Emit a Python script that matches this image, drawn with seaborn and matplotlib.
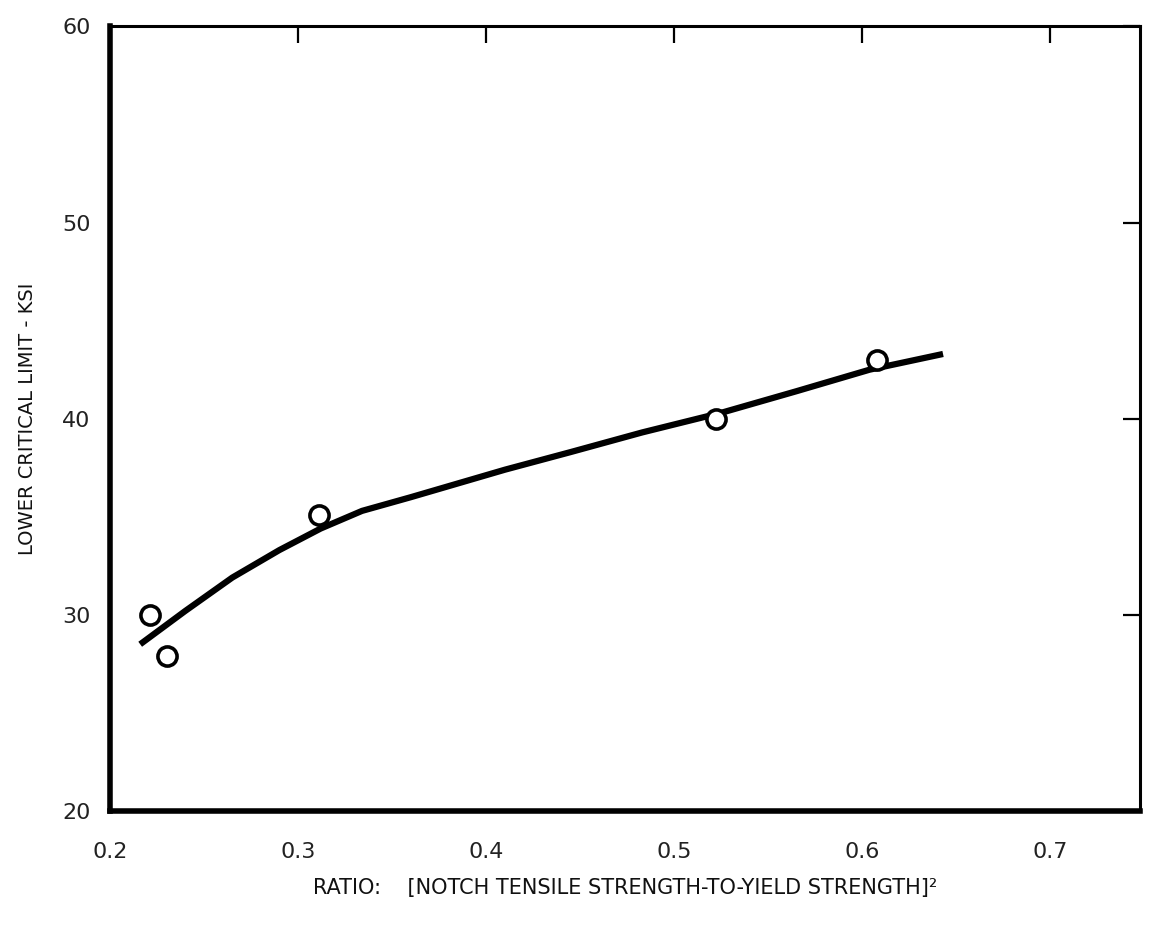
import numpy as np
import pandas as pd
import matplotlib
matplotlib.use("Agg")
import matplotlib.pyplot as plt
import seaborn as sns

# test points (open circles)
ratio_pts = [0.221, 0.230, 0.311, 0.522, 0.608]
limit_pts = [30.0, 27.9, 35.1, 40.0, 43.0]

# faired curve through the data
ratio_curve = [0.216, 0.240, 0.265, 0.290, 0.312, 0.334, 0.360, 0.385, 0.410, 0.445, 0.483, 0.525, 0.565, 0.604, 0.643]
limit_curve = [28.5, 30.2, 31.9, 33.3, 34.4, 35.3, 36.0, 36.7, 37.4, 38.3, 39.3, 40.3, 41.4, 42.5, 43.3]

x_ticks = [0.2, 0.3, 0.4, 0.5, 0.6, 0.7]
x_labels = ["0.2", "0.3", "0.4", "0.5", "0.6", "0.7"]
y_ticks = [20, 30, 40, 50, 60]
y_labels = ["20", "30", "40", "50", "60"]

sns.set_style("white")
plt.rcParams['font.family'] = ['DejaVu Sans']

fig, ax = plt.subplots(figsize=(11.59, 9.43), dpi=100)
fig.subplots_adjust(left=0.095, right=0.984, bottom=0.14, top=0.972)

curve = pd.DataFrame({"ratio": ratio_curve, "limit": limit_curve})
pts = pd.DataFrame({"ratio": ratio_pts, "limit": limit_pts})

sns.lineplot(data=curve, x="ratio", y="limit", sort=False, estimator=None,
             color="black", linewidth=4.5, solid_capstyle="butt", ax=ax, zorder=2)
sns.scatterplot(data=pts, x="ratio", y="limit", s=190, marker="o",
                facecolor="white", edgecolor="black", linewidth=2.6, ax=ax, zorder=3)

ax.set_xlim(0.2, 0.748)
ax.set_ylim(20, 60)
ax.set_xticks(x_ticks)
ax.set_xticklabels(x_labels)
ax.set_yticks(y_ticks)
ax.set_yticklabels(y_labels)

for side in ["left", "bottom", "top", "right"]:
    ax.spines[side].set_visible(True)
    ax.spines[side].set_color("black")
ax.spines["left"].set_linewidth(4)
ax.spines["bottom"].set_linewidth(4)
ax.spines["top"].set_linewidth(2.2)
ax.spines["right"].set_linewidth(2.2)

ax.tick_params(axis="both", direction="in", length=12, width=1.6, color="black",
               top=True, right=True, labelsize=16, labelcolor="#222222")
ax.tick_params(axis="x", pad=22)
ax.tick_params(axis="y", pad=14)

ax.set_xlabel("RATIO:    [NOTCH TENSILE STRENGTH-TO-YIELD STRENGTH]²",
              fontsize=15, color="#111111", labelpad=12)
ax.set_ylabel("LOWER CRITICAL LIMIT - KSI", fontsize=14, color="#111111", labelpad=18)
ax.grid(False)

plt.savefig("out.png", dpi=100, facecolor="white")
plt.close()
